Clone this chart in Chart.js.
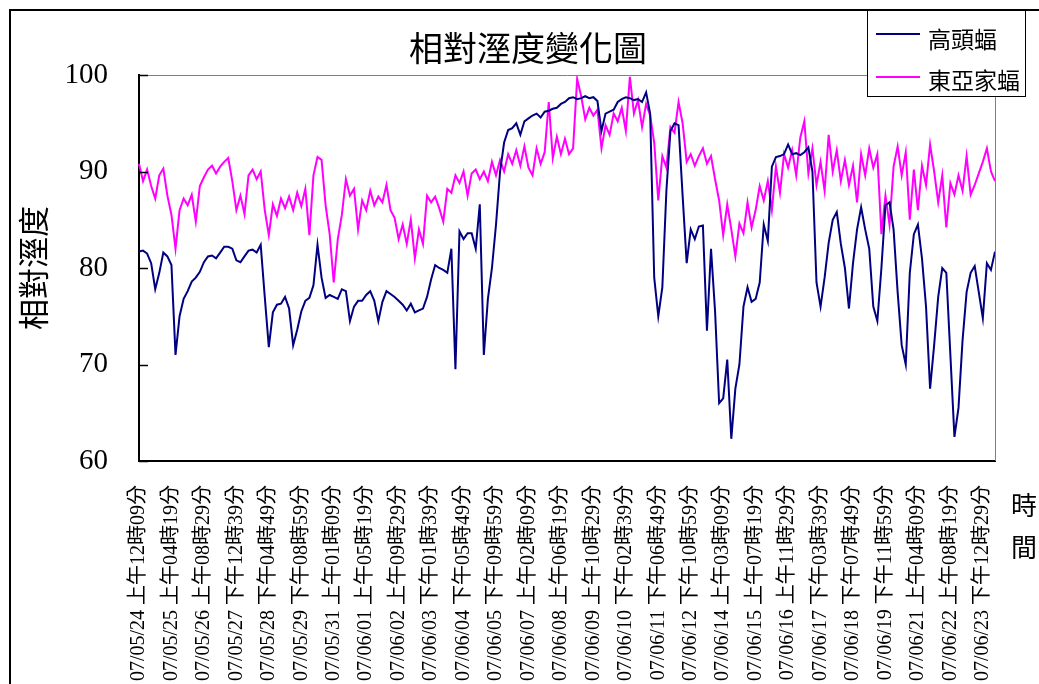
<!DOCTYPE html>
<html>
<head>
<meta charset="utf-8">
<script src="https://cdn.jsdelivr.net/npm/chart.js"></script>
<style>
body{margin:0;background:#fff}
</style>
</head>
<body>
<canvas id="humid" width="1039" height="684"></canvas>
<script>
// tick labels, one every 8 samples
const tickLabels = [
  '07/05/24 上午12時09分','07/05/25 上午04時19分','07/05/26 上午08時29分','07/05/27 下午12時39分',
  '07/05/28 下午04時49分','07/05/29 下午08時59分','07/05/31 上午01時09分','07/06/01 上午05時19分',
  '07/06/02 上午09時29分','07/06/03 下午01時39分','07/06/04 下午05時49分','07/06/05 下午09時59分',
  '07/06/07 上午02時09分','07/06/08 上午06時19分','07/06/09 上午10時29分','07/06/10 下午02時39分',
  '07/06/11 下午06時49分','07/06/12 下午10時59分','07/06/14 上午03時09分','07/06/15 上午07時19分',
  '07/06/16 上午11時29分','07/06/17 下午03時39分','07/06/18 下午07時49分','07/06/19 下午11時59分',
  '07/06/21 上午04時09分','07/06/22 上午08時19分','07/06/23 下午12時29分'
];
const STEP = 8;

// 高頭蝠
const gaotou = [
  81.7, 81.8, 81.5, 80.5, 77.8, 79.5, 81.6, 81.2,
  80.3, 71.0, 75.0, 76.8, 77.6, 78.6, 79.0, 79.6,
  80.6, 81.2, 81.3, 81.0, 81.6, 82.2, 82.2, 82.0,
  80.8, 80.6, 81.2, 81.8, 81.9, 81.6, 82.4, 77.0,
  71.8, 75.4, 76.2, 76.3, 77.0, 75.8, 72.0, 73.6,
  75.5, 76.6, 76.9, 78.2, 82.4, 79.0, 76.9, 77.2,
  77.0, 76.8, 77.8, 77.6, 74.5, 76.0, 76.6, 76.6,
  77.2, 77.6, 76.6, 74.5, 76.5, 77.6, 77.3, 77.0,
  76.6, 76.2, 75.6, 76.3, 75.4, 75.6, 75.8, 77.0,
  78.8, 80.3, 80.0, 79.8, 79.5, 82.0, 69.5, 83.8,
  83.0, 83.6, 83.6, 82.0, 86.6, 71.0, 76.8, 80.0,
  84.5, 90.0, 93.0, 94.3, 94.5, 95.0, 93.8, 95.2,
  95.5, 95.8, 96.0, 95.6, 96.2, 96.3, 96.5, 96.6,
  97.0, 97.2, 97.6, 97.7, 97.5, 97.6, 97.8, 97.6,
  97.7, 97.3, 94.2, 96.0, 96.2, 96.4, 97.2, 97.5,
  97.7, 97.6, 97.4, 97.5, 97.2, 98.2, 96.0, 79.0,
  75.0, 78.0, 88.0, 94.2, 95.0, 94.8, 87.5, 80.5,
  84.0, 83.0, 84.3, 84.4, 73.5, 82.0, 75.5, 66.0,
  66.5, 70.5, 62.3, 67.5, 70.0, 76.0, 78.0, 76.5,
  76.8, 78.5, 84.5, 82.8, 90.5, 91.5, 91.6, 91.8,
  92.8, 91.8, 91.9, 91.7, 92.0, 92.5, 90.0, 78.5,
  76.0, 79.0, 82.6, 85.0, 85.8, 82.5, 80.0, 75.8,
  80.5, 84.0, 86.3, 84.0, 82.0, 76.0, 74.5, 80.0,
  86.5, 86.8, 84.0, 77.5, 72.0, 70.0, 79.5, 83.5,
  84.5, 81.0, 76.0, 67.5, 72.0, 77.0, 80.0, 79.5,
  71.0, 62.5, 65.5, 72.5, 77.5, 79.5, 80.2, 77.5,
  74.8, 80.5, 79.8, 81.7
];

// 東亞家蝠
const dongya = [
  90.8, 89.0, 90.2, 88.5, 87.2, 89.6, 90.3, 87.5,
  85.5, 82.0, 86.0, 87.2, 86.5, 87.6, 84.8, 88.5,
  89.4, 90.2, 90.6, 89.8, 90.5, 91.0, 91.4, 89.0,
  86.0, 87.5, 85.6, 89.6, 90.2, 89.2, 90.0, 86.0,
  83.4, 86.6, 85.4, 87.2, 86.2, 87.4, 86.0, 87.8,
  86.4, 88.2, 83.4, 89.6, 91.5, 91.2, 86.5, 83.5,
  78.5, 83.0, 85.5, 89.2, 87.5, 88.2, 84.0, 87.0,
  86.0, 88.0, 86.5, 87.4, 86.8, 88.6, 86.0, 85.2,
  83.0, 84.5, 82.5, 85.0, 81.0, 84.0, 82.5, 87.5,
  86.8, 87.4, 86.2, 84.8, 88.2, 87.8, 89.6, 88.8,
  90.0, 87.5, 89.8, 90.2, 89.2, 90.0, 89.0, 91.0,
  89.6, 91.2, 90.0, 91.8, 90.8, 92.2, 90.6, 92.6,
  90.4, 89.6, 92.4, 90.8, 92.0, 97.2, 91.4, 93.6,
  91.8, 93.4, 91.8, 92.4, 99.6, 97.8, 95.4, 96.6,
  95.8, 96.4, 92.4, 94.8, 93.8, 96.0, 95.2, 96.6,
  94.2, 99.8, 96.0, 97.4, 94.6, 97.0, 95.8, 93.0,
  87.0, 91.6, 90.4, 94.6, 94.0, 97.2, 95.0, 91.0,
  91.8, 90.6, 91.6, 92.4, 90.8, 91.6, 89.2, 87.0,
  83.4, 86.6, 84.0, 81.2, 84.6, 83.6, 86.8, 84.2,
  86.0, 88.5, 87.0, 89.0, 86.0, 90.5, 87.8, 91.8,
  90.4, 92.2, 89.6, 93.5, 95.2, 89.8, 92.4, 88.6,
  91.0, 88.0, 93.8, 90.0, 92.2, 89.0, 91.2, 88.6,
  90.6, 86.8, 91.8, 89.6, 92.4, 90.4, 91.8, 83.5,
  87.5, 84.5, 90.5, 92.6, 89.6, 92.0, 85.0, 90.2,
  86.0, 90.6, 88.6, 92.8, 90.0, 86.8, 89.6, 84.2,
  88.8, 87.6, 89.6, 88.0, 91.6, 87.6, 88.6, 89.8,
  91.0, 92.4, 90.0, 89.0
];

const xLabels = gaotou.map((v, i) => (i % STEP === 0 && tickLabels[i / STEP]) ? tickLabels[i / STEP] : '');

const SERIF = '"Liberation Serif", "Noto Sans CJK TC", serif';
const CJK = '"Noto Sans CJK TC", sans-serif';

// frame, titles, inward ticks and the boxed legend
const decor = {
  id: 'decor',
  beforeDraw(chart) {
    const ctx = chart.ctx;
    ctx.save();
    ctx.fillStyle = '#fff';
    ctx.fillRect(0, 0, chart.width, chart.height);
    ctx.restore();
  },
  afterDraw(chart) {
    const ctx = chart.ctx;
    const a = chart.chartArea;
    const y = chart.scales.y;
    ctx.save();

    ctx.strokeStyle = '#808080';
    ctx.lineWidth = 1;
    ctx.beginPath();
    ctx.moveTo(a.left, a.top + 0.5);
    ctx.lineTo(a.right + 0.5, a.top + 0.5);
    ctx.lineTo(a.right + 0.5, a.bottom);
    ctx.stroke();

    ctx.strokeStyle = '#000';
    ctx.lineWidth = 1.5;
    y.ticks.forEach(t => {
      const py = Math.round(y.getPixelForValue(t.value)) + 0.5;
      ctx.beginPath();
      ctx.moveTo(a.left, py);
      ctx.lineTo(a.left + 9, py);
      ctx.stroke();
    });

    // outer chart frame
    ctx.lineWidth = 2;
    ctx.beginPath();
    ctx.moveTo(10, chart.height);
    ctx.lineTo(10, 10);
    ctx.lineTo(chart.width, 10);
    ctx.stroke();

    ctx.fillStyle = '#000';
    ctx.textAlign = 'center';
    ctx.textBaseline = 'middle';
    ctx.font = '34px ' + CJK;
    ctx.fillText('相對溼度變化圖', 528, 48);

    ctx.font = '26px ' + CJK;
    ctx.fillText('時', 1024, 505);
    ctx.fillText('間', 1024, 547);

    ctx.save();
    ctx.translate(33, 268);
    ctx.rotate(-Math.PI / 2);
    ctx.font = '31px ' + CJK;
    ctx.fillText('相對溼度', 0, 0);
    ctx.restore();

    // legend box
    ctx.fillStyle = '#fff';
    ctx.fillRect(867.5, 10.5, 158, 86);
    ctx.strokeStyle = '#000';
    ctx.lineWidth = 1;
    ctx.strokeRect(867.5, 10.5, 158, 86);
    const rows = [[0, 34, 39], [1, 77, 80]];
    ctx.font = '23px ' + CJK;
    ctx.textAlign = 'left';
    rows.forEach(([d, ly, ty]) => {
      const ds = chart.data.datasets[d];
      ctx.strokeStyle = ds.borderColor;
      ctx.lineWidth = 2;
      ctx.beginPath();
      ctx.moveTo(876, ly);
      ctx.lineTo(920, ly);
      ctx.stroke();
      ctx.fillStyle = '#000';
      ctx.fillText(ds.label, 928, ty);
    });
    ctx.restore();
  }
};

new Chart(document.getElementById('humid'), {
  type: 'line',
  data: {
    labels: xLabels,
    datasets: [
      { label: '高頭蝠', data: gaotou, borderColor: '#000080', borderWidth: 2, pointRadius: 0, tension: 0 },
      { label: '東亞家蝠', data: dongya, borderColor: '#FF00FF', borderWidth: 2, pointRadius: 0, tension: 0 }
    ]
  },
  options: {
    responsive: false,
    animation: false,
    layout: { padding: { top: 75, right: 44, left: 0, bottom: 0 } },
    plugins: {
      legend: { display: false },
      title: { display: false },
      tooltip: { enabled: false }
    },
    scales: {
      x: {
        grid: { display: true, drawOnChartArea: false, drawTicks: false },
        border: { color: '#000', width: 2 },
        ticks: {
          autoSkip: false, maxRotation: 90, minRotation: 90, padding: 24,
          color: '#000', font: { family: SERIF, size: 20 }
        },
        afterFit(s) { s.height = 223; s.paddingLeft = 0; s.paddingRight = 0; }
      },
      y: {
        min: 60, max: 100,
        grid: { display: true, drawOnChartArea: false, drawTicks: false },
        border: { color: '#000', width: 2 },
        ticks: { stepSize: 10, padding: 31, color: '#000', font: { family: SERIF, size: 29 } },
        afterFit(s) { s.width = 139; s.paddingTop = 0; s.paddingBottom = 0; }
      }
    }
  },
  plugins: [decor]
});
</script>
</body>
</html>
